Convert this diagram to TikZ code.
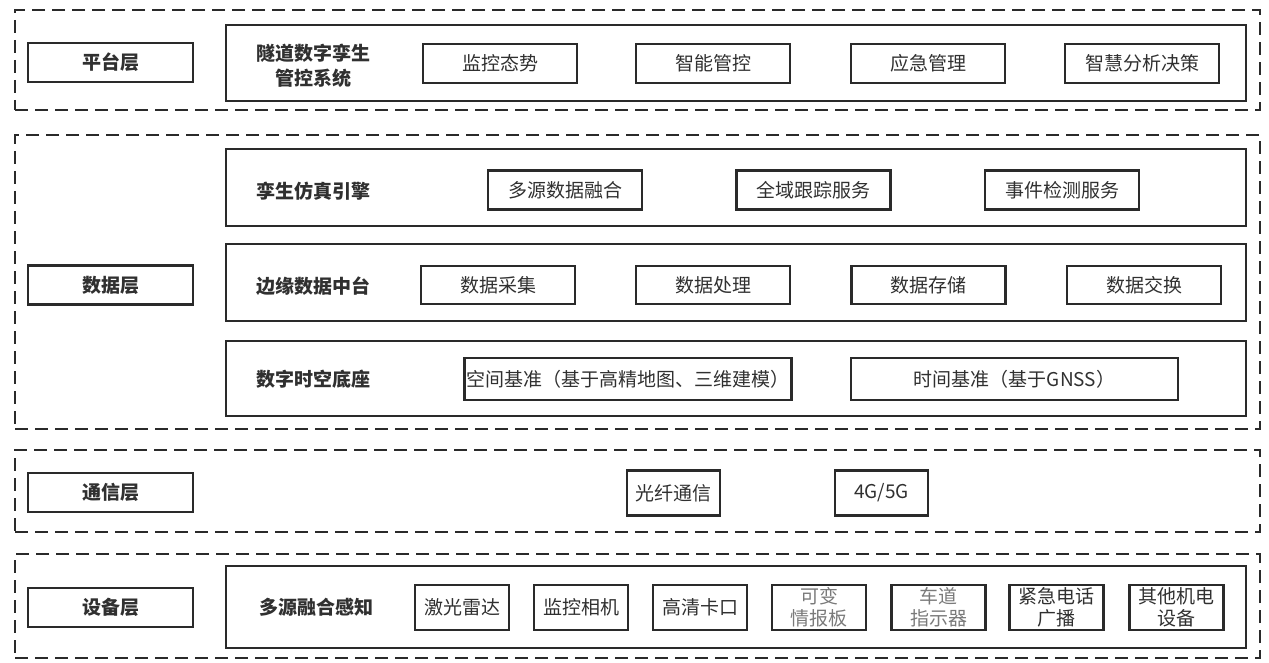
\documentclass[tikz,border=0pt]{standalone}
\usepackage{fontspec}
\setmainfont{Noto Sans CJK SC}
\usepackage{xcolor}
\usepackage{tikz}
\definecolor{LineGray}{HTML}{2A2A2A}
\definecolor{InkGray}{HTML}{303030}
\definecolor{PaleGray}{HTML}{7A7A7A}

\begin{document}
\begin{tikzpicture}[x=1pt, y=-1pt,
    layerframe/.style={draw=LineGray, line width=2.8pt, dash pattern=on 13pt off 7pt,
                       minimum width=1245pt, inner sep=0pt},
    groupframe/.style={draw=LineGray, line width=2.2pt, minimum width=1020pt, inner sep=0pt},
    layertag/.style={draw=LineGray, line width=2.2pt, minimum width=165pt, minimum height=39pt,
                     inner sep=0pt, text=InkGray, font=\fontsize{19}{23}\selectfont\bfseries},
    grouptitle/.style={align=center, inner sep=0pt, text=InkGray,
                       font=\fontsize{19}{25}\selectfont\bfseries},
    itembox/.style={draw=LineGray, line width=2.2pt, minimum width=154pt, minimum height=38pt,
                    inner sep=0pt, align=center, text=InkGray, font=\fontsize{19}{22}\selectfont},
    devbox/.style={itembox, minimum width=94pt, minimum height=45pt}]

  \useasboundingbox (0,0) rectangle (1269,663);

  % platform layer
  \node[layerframe, minimum height=100pt] (platFrame) at (637.5,60) {};
  \node[layertag] (platTag) at (110.5,62.5) {平台层};
  \node[groupframe, minimum height=76pt] (platGroup) at (736,63) {};
  \node[grouptitle] (platTitle) at (313,65.5) {隧道数字孪生\\管控系统};
  \node[itembox, minimum height=39pt] (platA) at (500,63.5) {监控态势};
  \node[itembox, minimum height=39pt] (platB) at (713,63.5) {智能管控};
  \node[itembox, minimum height=39pt] (platC) at (928,63.5) {应急管理};
  \node[itembox, minimum height=39pt] (platD) at (1142,63.5) {智慧分析决策};

  % data layer
  \node[layerframe, minimum height=294pt] (dataFrame) at (637.5,282) {};
  \node[layertag] (dataTag) at (110.5,285) {数据层};
  \node[groupframe, minimum height=77pt] (twinGroup) at (736,187.3) {};
  \node[grouptitle] (twinTitle) at (313,191.5) {孪生仿真引擎};
  \node[itembox, minimum height=39pt] (twinA) at (565,190) {多源数据融合};
  \node[itembox, minimum height=39pt] (twinB) at (813.5,190) {全域跟踪服务};
  \node[itembox, minimum height=39pt] (twinC) at (1062,190) {事件检测服务};

  \node[groupframe, minimum height=77pt] (edgeGroup) at (736,282.5) {};
  \node[grouptitle] (edgeTitle) at (313,286.5) {边缘数据中台};
  \node[itembox] (edgeA) at (498,285) {数据采集};
  \node[itembox] (edgeB) at (713,285) {数据处理};
  \node[itembox] (edgeC) at (928.5,285) {数据存储};
  \node[itembox] (edgeD) at (1144,285) {数据交换};

  \node[groupframe, minimum height=75pt] (baseGroup) at (736,378.3) {};
  \node[grouptitle] (baseTitle) at (313,379) {数字时空底座};
  \node[itembox, minimum width=327pt, minimum height=42pt] (baseA) at (628,379.3)
    {空间基准（基于高精地图、三维建模）};
  \node[itembox, minimum width=327pt, minimum height=42pt] (baseB) at (1014.5,379.3)
    {时间基准（基于GNSS）};

  % communication layer
  \node[layerframe, minimum height=82pt] (commFrame) at (637.5,491) {};
  \node[layertag] (commTag) at (110.5,492.5) {通信层};
  \node[itembox, minimum width=93pt, minimum height=45pt] (commA) at (673.5,493) {光纤通信};
  \node[itembox, minimum width=93pt, minimum height=45pt] (commB) at (881.5,493) {4G/5G};

  % device layer
  \node[layerframe, minimum height=104pt] (devFrame) at (637.5,606) {};
  \node[layertag] (devTag) at (110.5,607.5) {设备层};
  \node[groupframe, minimum height=82pt] (devGroup) at (736,607) {};
  \node[grouptitle] (devTitle) at (316,607) {多源融合感知};
  \node[devbox] (devA) at (462,607.5) {激光雷达};
  \node[devbox] (devB) at (581,607.5) {监控相机};
  \node[devbox] (devC) at (700,607.5) {高清卡口};
  \node[devbox, text=PaleGray] (devD) at (819,607.5) {可变\\情报板};
  \node[devbox, text=PaleGray] (devE) at (938.5,607.5) {车道\\指示器};
  \node[devbox] (devF) at (1056.5,607.5) {紧急电话\\广播};
  \node[devbox] (devG) at (1176.5,607.5) {其他机电\\设备};
\end{tikzpicture}
\end{document}
